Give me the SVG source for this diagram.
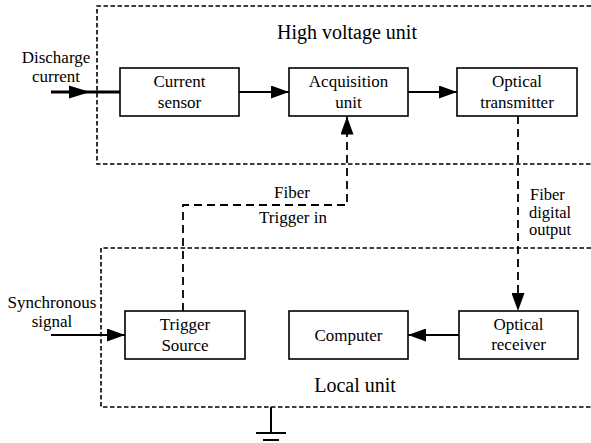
<svg xmlns="http://www.w3.org/2000/svg" width="591" height="443" viewBox="0 0 591 443">
<defs>
<style>
.box{fill:#fff;stroke:#000;stroke-width:1.6}
.unit{fill:none;stroke:#000;stroke-width:1.6;stroke-dasharray:4.5 2.5}
.ln{fill:none;stroke:#000;stroke-width:1.8}
.fib{fill:none;stroke:#000;stroke-width:1.8;stroke-dasharray:8 5}
</style>
<marker id="ah" markerUnits="userSpaceOnUse" markerWidth="18" markerHeight="13" refX="18" refY="6.5" orient="auto">
<path d="M0,0 L18,6.5 L0,13 Z" fill="#000"/>
</marker>
</defs>
<g id="units">
<path class="unit" d="M591,6 H97 V164 H591"/>
<path class="unit" d="M591,248 H101 V407 H591"/>
<text font-family="Liberation Serif" font-size="20" text-anchor="middle" x="347" y="39">High voltage unit</text>
<text font-family="Liberation Serif" font-size="20" text-anchor="middle" x="355" y="392">Local unit</text>
</g>
<g id="connectors">
<line x1="51" y1="92" x2="120" y2="92" stroke="#000" stroke-width="3.2"/>
<polygon points="69,85.5 90,92 69,98.5" fill="#000"/>
<line class="ln" x1="239" y1="92" x2="289" y2="92" marker-end="url(#ah)"/>
<line class="ln" x1="408" y1="92" x2="457" y2="92" marker-end="url(#ah)"/>
<path class="fib" d="M183,311 V205 H347 V116.5" marker-end="url(#ah)"/>
<path class="fib" d="M518,116 V311" marker-end="url(#ah)"/>
<line class="ln" x1="51" y1="335" x2="125" y2="335" marker-end="url(#ah)"/>
<line class="ln" x1="459" y1="335" x2="408" y2="335" marker-end="url(#ah)"/>
<g font-family="Liberation Serif" font-size="17" text-anchor="middle">
<text x="56" y="63">Discharge</text>
<text x="56" y="82">current</text>
<text x="52" y="308">Synchronous</text>
<text x="52" y="327">signal</text>
<text x="292" y="198">Fiber</text>
<text x="293" y="223">Trigger in</text>
</g>
<g font-family="Liberation Serif" font-size="16.5" text-anchor="start">
<text x="530" y="200">Fiber</text>
<text x="529" y="217.5">digital</text>
<text x="529" y="235">output</text>
</g>
</g>
<g id="ground">
<line x1="271" y1="407" x2="271" y2="433" stroke="#000" stroke-width="2"/>
<line x1="256" y1="433" x2="286" y2="433" stroke="#000" stroke-width="2"/>
<line x1="263" y1="440" x2="279" y2="440" stroke="#000" stroke-width="2"/>
</g>
<g id="current-sensor" font-family="Liberation Serif" font-size="17" text-anchor="middle">
<rect class="box" x="120" y="68" width="119" height="48"/>
<text x="179.5" y="87">Current</text>
<text x="179.5" y="108">sensor</text>
</g>
<g id="acquisition-unit" font-family="Liberation Serif" font-size="17" text-anchor="middle">
<rect class="box" x="289" y="68" width="119" height="48"/>
<text x="348.5" y="87">Acquisition</text>
<text x="348.5" y="108">unit</text>
</g>
<g id="optical-transmitter" font-family="Liberation Serif" font-size="17" text-anchor="middle">
<rect class="box" x="457" y="68" width="120" height="48"/>
<text x="517" y="87">Optical</text>
<text x="517" y="108">transmitter</text>
</g>
<g id="trigger-source" font-family="Liberation Serif" font-size="17" text-anchor="middle">
<rect class="box" x="125" y="311" width="120" height="48"/>
<text x="185" y="330">Trigger</text>
<text x="185" y="351">Source</text>
</g>
<g id="computer" font-family="Liberation Serif" font-size="17" text-anchor="middle">
<rect class="box" x="289" y="311" width="119" height="48"/>
<text x="348.5" y="341">Computer</text>
</g>
<g id="optical-receiver" font-family="Liberation Serif" font-size="17" text-anchor="middle">
<rect class="box" x="459" y="311" width="119" height="48"/>
<text x="518.5" y="330">Optical</text>
<text x="518.5" y="350">receiver</text>
</g>
</svg>
